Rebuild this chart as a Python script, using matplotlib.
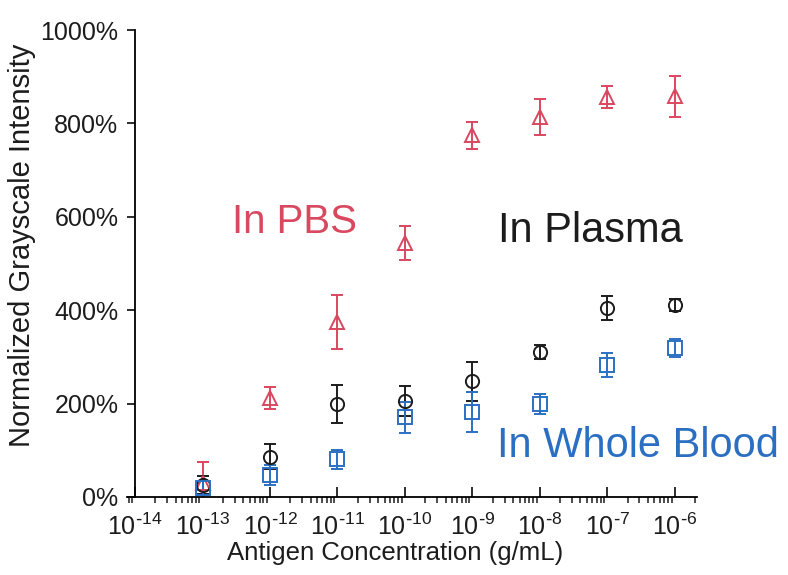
import numpy as np
import matplotlib
matplotlib.use("Agg")
import matplotlib.pyplot as plt
from matplotlib.ticker import LogLocator, FixedLocator, NullFormatter, FuncFormatter, PercentFormatter

plt.rcParams['font.family'] = ['Liberation Sans', 'DejaVu Sans']
plt.rcParams['mathtext.default'] = 'regular'

# antigen concentration (g/mL)
conc = [1e-13, 1e-12, 1e-11, 1e-10, 1e-9, 1e-8, 1e-7, 1e-6]

# normalized grayscale intensity (%) and error bars
pbs = [30, 212, 375, 544, 775, 814, 856, 858]
pbs_err = [45, 23, 58, 36, 29, 38, 24, 44]
plasma = [26, 86, 199, 206, 248, 310, 405, 411]
plasma_err = [20, 27, 40, 32, 42, 15, 25, 12]
blood = [19, 47, 81, 171, 182, 199, 283, 319]
blood_err = [15, 22, 20, 33, 42, 21, 25, 20]

red = '#d8485f'
blue = '#2b6fc2'
black = '#1c1c1c'

fig = plt.figure(figsize=(7.88, 5.75), dpi=100)
ax = fig.add_axes([127 / 788, 78 / 575, 570 / 788, 467 / 575])

style = dict(linestyle='none', markersize=9.5, markerfacecolor='none',
             markeredgewidth=1.4, elinewidth=1.4, capsize=4, capthick=1.4)
ax.errorbar(conc, pbs, yerr=pbs_err, marker='^', color=red, ecolor=red, **style)
ax.errorbar(conc, plasma, yerr=plasma_err, marker='o', color=black, ecolor=black, **style)
ax.errorbar(conc, blood, yerr=blood_err, marker='s', color=blue, ecolor=blue, **style)

ax.set_xscale('log')
ax.set_xlim(10 ** -14.12, 10 ** -5.67)
ax.set_ylim(0, 1000)

ax.spines['top'].set_visible(False)
ax.spines['right'].set_visible(False)
ax.spines['left'].set_position(('data', 1e-14))
ax.spines['left'].set_linewidth(1.3)
ax.spines['bottom'].set_linewidth(1.3)


def decade(x, pos):
    k = int(round(np.log10(x)))
    return r'$\mathdefault{10^{\text{-}%d}}$' % (-k)


ax.xaxis.set_major_locator(FixedLocator([10.0 ** k for k in range(-14, -5)]))
ax.xaxis.set_major_formatter(FuncFormatter(decade))
ax.xaxis.set_minor_locator(LogLocator(base=10, subs=np.arange(2, 10), numticks=20))
ax.xaxis.set_minor_formatter(NullFormatter())
ax.tick_params(axis='x', which='major', direction='in', length=7, width=1.3,
               labelsize=18, pad=12, colors=black)
ax.tick_params(axis='x', which='minor', direction='out', length=4, width=1.1, colors=black)

ax.set_yticks([0, 200, 400, 600, 800, 1000])
ax.yaxis.set_major_formatter(PercentFormatter(decimals=0))
ax.tick_params(axis='y', which='major', direction='out', length=6, width=1.3,
               labelsize=18, pad=6, colors=black)

ax.set_xlabel('Antigen Concentration (g/mL)', fontsize=18.5, color=black)
ax.xaxis.set_label_coords(0.47, -0.094)
ax.set_ylabel('Normalized Grayscale Intensity', fontsize=21, color=black)
ax.yaxis.set_label_coords(-0.16, 0.54)

ax.text(0.184, 0.565, 'In PBS', transform=ax.transAxes, fontsize=29, color=red)
ax.text(0.651, 0.546, 'In Plasma', transform=ax.transAxes, fontsize=30, color=black)
ax.text(0.649, 0.086, 'In Whole Blood', transform=ax.transAxes, fontsize=30, color=blue,
        clip_on=False)

fig.savefig('out.png', dpi=100)
